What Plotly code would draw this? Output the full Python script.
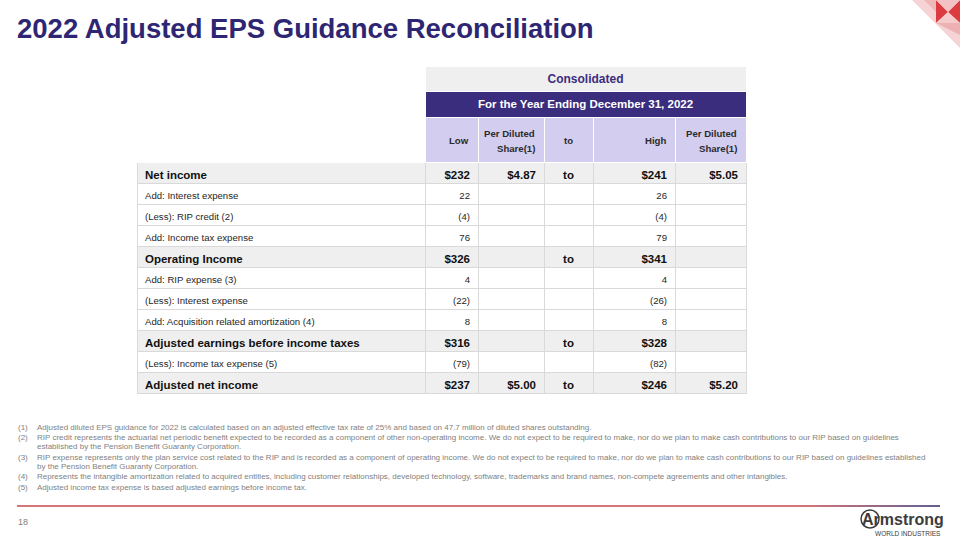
import plotly.graph_objects as go

W, H = 960, 540

# table content
row_labels = [
    "Net income",
    "Add: Interest expense",
    "(Less): RIP credit (2)",
    "Add: Income tax expense",
    "Operating Income",
    "Add: RIP expense (3)",
    "(Less): Interest expense",
    "Add: Acquisition related amortization (4)",
    "Adjusted earnings before income taxes",
    "(Less): Income tax expense (5)",
    "Adjusted net income",
]
low = ["$232", "22", "(4)", "76", "$326", "4", "(22)", "8", "$316", "(79)", "$237"]
low_eps = ["$4.87", "", "", "", "", "", "", "", "", "", "$5.00"]
to_col = ["to", "", "", "", "to", "", "", "", "to", "", "to"]
high = ["$241", "26", "(4)", "79", "$341", "4", "(26)", "8", "$328", "(82)", "$246"]
high_eps = ["$5.05", "", "", "", "", "", "", "", "", "", "$5.20"]
bold_rows = [True, False, False, False, True, False, False, False, True, False, True]

col_headers = ["", "Low", "Per Diluted<br>Share(1)", "to", "High", "Per Diluted<br>Share(1)"]
top_header = "Consolidated"
period_header = "For the Year Ending December 31, 2022"

footnote_nums = ["(1)", "(2)", "", "(3)", "", "(4)", "(5)"]
footnote_lines = [
    "Adjusted diluted EPS guidance for 2022 is calculated based on an adjusted effective tax rate of 25% and based on 47.7 million of diluted shares outstanding.",
    "RIP credit represents the actuarial net periodic benefit expected to be recorded as a component of other non-operating income. We do not expect to be required to make, nor do we plan to make cash contributions to our RIP based on guidelines",
    "established by the Pension Benefit Guaranty Corporation.",
    "RIP expense represents only the plan service cost related to the RIP and is recorded as a component of operating income. We do not expect to be required to make, nor do we plan to make cash contributions to our RIP based on guidelines established",
    "by the Pension Benefit Guaranty Corporation.",
    "Represents the intangible amortization related to acquired entities, including customer relationships, developed technology, software, trademarks and brand names, non-compete agreements and other intangibles.",
    "Adjusted income tax expense is based adjusted earnings before income tax.",
]
footnote_y = [427, 437.5, 447, 457, 466, 476.5, 487]

FONT = "Liberation Sans, Arial, sans-serif"
INDIGO = "#2e2672"
PURPLE = "#3b2d7e"
LAVENDER = "#d3cdef"
GREY_ROW = "#efefef"
LINE = "#d9d9d9"
CLEAR = "rgba(0,0,0,0)"
NOTE_GREY = "#7f7f7f"

col_widths = [288, 53, 66, 49, 82, 71]
col_align = ["left", "right", "right", "center", "right", "right"]
TABLE_X0, TABLE_X1 = 137, 746
BODY_TOP = 117.5


def px(x):
    return x / W


def py(y):
    return 1 - y / H


columns = [row_labels, low, low_eps, to_col, high, high_eps]
# regular rows go in the base table, bold rows in a transparent overlay
plain_cols = [["" if bold_rows[i] else v for i, v in enumerate(col)] for col in columns]
bold_cols = [[v if bold_rows[i] else "" for i, v in enumerate(col)] for col in columns]
row_fill = [GREY_ROW if flag else "white" for flag in bold_rows]

fig = go.Figure()

# merged header rows above the numeric columns
fig.add_trace(
    go.Table(
        domain=dict(x=[px(425), px(TABLE_X1)], y=[py(BODY_TOP), py(66)]),
        columnwidth=[1],
        header=dict(
            values=[top_header],
            fill_color=GREY_ROW,
            line=dict(color="white", width=1),
            align="center",
            height=25,
            font=dict(family=FONT, size=12, color=PURPLE, weight="bold"),
        ),
        cells=dict(
            values=[[period_header]],
            fill_color=PURPLE,
            line=dict(color="white", width=1),
            align="center",
            height=26,
            font=dict(family=FONT, size=11.5, color="white", weight="bold"),
        ),
    )
)

# main reconciliation table (header labels are placed as annotations below)
fig.add_trace(
    go.Table(
        domain=dict(x=[px(TABLE_X0), px(TABLE_X1)], y=[0, py(BODY_TOP)]),
        columnwidth=col_widths,
        header=dict(
            values=[""] * len(col_headers),
            fill_color=["white"] + [LAVENDER] * 5,
            line=dict(color="white", width=1),
            height=45,
        ),
        cells=dict(
            values=plain_cols,
            fill_color=[row_fill] * 6,
            line=dict(color=LINE, width=1),
            align=col_align,
            height=21,
            font=dict(family=FONT, size=9.6, color="#262626"),
        ),
    )
)
fig.add_trace(
    go.Table(
        domain=dict(x=[px(TABLE_X0), px(TABLE_X1)], y=[0, py(BODY_TOP)]),
        columnwidth=col_widths,
        header=dict(
            values=[""] * len(col_headers),
            fill_color=CLEAR,
            line=dict(color=CLEAR, width=0),
            height=45,
        ),
        cells=dict(
            values=bold_cols,
            fill_color=CLEAR,
            line=dict(color=CLEAR, width=0),
            align=col_align,
            height=21,
            font=dict(family=FONT, size=11.5, color="#111111", weight="bold"),
        ),
    )
)

annotations = [
    dict(
        text="2022 Adjusted EPS Guidance Reconciliation",
        x=px(15), y=py(29), xanchor="left", yanchor="middle",
        font=dict(family=FONT, size=27.5, color=INDIGO, weight="bold"),
    ),
    dict(
        text="18", x=px(16), y=py(522), xanchor="left", yanchor="middle",
        font=dict(family=FONT, size=9, color="#808080"),
    ),
    dict(
        text="Armstrong", x=px(946), y=py(519), xanchor="right", yanchor="middle",
        font=dict(family=FONT, size=16, color="#3c3c3c", weight="bold"),
    ),
    dict(
        text="WORLD INDUSTRIES", x=px(943), y=py(533), xanchor="right", yanchor="middle",
        font=dict(family=FONT, size=6.5, color="#3c3c3c"),
    ),
]

# column header labels of the lavender row, one annotation per text line
edge = TABLE_X0
for label, wdt, al in zip(col_headers, col_widths, col_align):
    left, edge = edge, edge + wdt
    if not label:
        continue
    if al == "center":
        xa, xpos = "center", (left + edge) / 2
    else:
        xa, xpos = "right", edge - 7
    parts = label.split("<br>")
    for k, part in enumerate(parts):
        ypos = 141 + (k - (len(parts) - 1) / 2) * 15
        annotations.append(dict(
            text=part, x=px(xpos), y=py(ypos), xanchor=xa, yanchor="middle",
            font=dict(family=FONT, size=9.6, color="#2b2b2b", weight="bold"),
        ))

for num, line, y in zip(footnote_nums, footnote_lines, footnote_y):
    if num:
        annotations.append(dict(
            text=num, x=px(16), y=py(y), xanchor="left", yanchor="middle",
            font=dict(family=FONT, size=8, color=NOTE_GREY),
        ))
    annotations.append(dict(
        text=line, x=px(35), y=py(y), xanchor="left", yanchor="middle",
        font=dict(family=FONT, size=8, color=NOTE_GREY),
    ))
for a in annotations:
    a.update(xref="paper", yref="paper", showarrow=False)

shapes = []
# bottom rule: red fading to indigo at the right end
shapes.append(dict(type="line", x0=px(17), x1=px(800), y0=py(506), y1=py(506),
                   line=dict(color="#c8474a", width=1.5)))
steps = 14
for i in range(steps):
    t = (i + 0.5) / steps
    r = int(200 + (46 - 200) * t)
    g = int(71 + (42 - 71) * t)
    bl = int(74 + (112 - 74) * t)
    x0 = 800 + (940 - 800) * i / steps
    x1 = 800 + (940 - 800) * (i + 1) / steps
    shapes.append(dict(type="line", x0=px(x0), x1=px(x1), y0=py(506), y1=py(506),
                       line=dict(color=f"rgb({r},{g},{bl})", width=1.5)))
# circled A in the logo
shapes.append(dict(type="circle", x0=px(861), x1=px(879), y0=py(528), y1=py(510),
                   line=dict(color="#3c3c3c", width=1.5)))


def tri(pts, color):
    path = "M " + " L ".join(f"{px(x)},{py(y)}" for x, y in pts) + " Z"
    return dict(type="path", path=path, fillcolor=color, line=dict(width=0))


# corner ornament
shapes += [
    tri([(912, 0), (960, 0), (960, 48)], "#f6d3d4"),
    tri([(924, 0), (936, 0), (936, 12)], "#efb8ba"),
    tri([(936, 0), (936, 23), (948, 12)], "#dc3c3f"),
    tri([(960, 0), (960, 23), (948, 12)], "#dc3c3f"),
    tri([(936, 0), (960, 0), (948, 12)], "#f2c2c4"),
    tri([(936, 23), (960, 23), (948, 12)], "#f4cacb"),
    tri([(936, 23), (960, 23), (960, 35)], "#eeb1b3"),
]

fig.update_layout(
    width=W,
    height=H,
    margin=dict(l=0, r=0, t=0, b=0),
    paper_bgcolor="white",
    plot_bgcolor="white",
    annotations=annotations,
    shapes=shapes,
    showlegend=False,
)

# the page margin would push the 960x540 figure off the window
fig.write_html(
    "out.html",
    config={"displayModeBar": False},
    post_script="document.body.style.margin='0';",
)
